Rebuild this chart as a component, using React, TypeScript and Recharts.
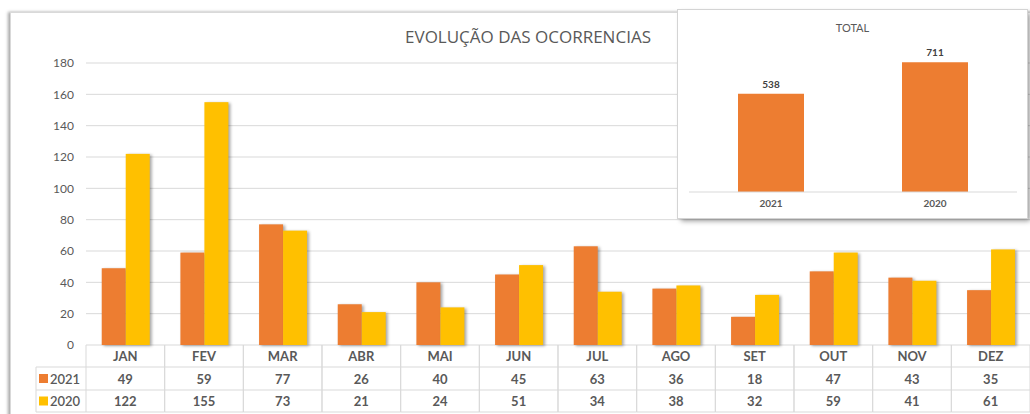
import React from "react";
import { BarChart, Bar, XAxis, YAxis, CartesianGrid, LabelList } from "recharts";

const MONTHS = ["JAN", "FEV", "MAR", "ABR", "MAI", "JUN", "JUL", "AGO", "SET", "OUT", "NOV", "DEZ"];
const VALUES_2021 = [49, 59, 77, 26, 40, 45, 63, 36, 18, 47, 43, 35];
const VALUES_2020 = [122, 155, 73, 21, 24, 51, 34, 38, 32, 59, 41, 61];
const Y_TICKS = [0, 20, 40, 60, 80, 100, 120, 140, 160, 180];

const TOTAL_YEARS = ["2021", "2020"];
const TOTAL_VALUES = [538, 711];

const ORANGE = "#ED7D31";
const YELLOW = "#FFC000";
const GRID = "#d9d9d9";
const TXT = "#595959";
const FONT = "Lato, 'Open Sans', sans-serif";

// layout
const W = 1030;
const H = 414;
const PLOT_LEFT = 86;
const PLOT_BOTTOM = 345;
const BAND = (W - PLOT_LEFT) / MONTHS.length;
const ROW1 = 367;
const ROW2 = 390;
const ROW3 = 412;

const monthly = MONTHS.map((m, i) => ({ mes: m, y2021: VALUES_2021[i], y2020: VALUES_2020[i] }));
const totals = TOTAL_YEARS.map((y, i) => ({ ano: y, total: TOTAL_VALUES[i] }));

const shadowBar = (p: any) => (
  <rect
    x={p.x}
    y={p.y}
    width={p.width}
    height={p.height}
    fill={p.fill}
    style={{ filter: "drop-shadow(2px 1px 1.5px rgba(0,0,0,0.35))" }}
  />
);

// tabela de dados desenhada nos ticks do eixo X
function TableTick(props: any) {
  const { x, payload, index } = props;
  const i = index ?? payload.index;
  const l = x - BAND / 2;
  const r = x + BAND / 2;
  return (
    <g>
      <line x1={l} x2={l} y1={PLOT_BOTTOM} y2={ROW3} stroke={GRID} />
      <line x1={r} x2={r} y1={PLOT_BOTTOM} y2={ROW3} stroke={GRID} />
      <line x1={l} x2={r} y1={ROW1} y2={ROW1} stroke={GRID} />
      <line x1={l} x2={r} y1={ROW2} y2={ROW2} stroke={GRID} />
      <line x1={l} x2={r} y1={ROW3} y2={ROW3} stroke={GRID} />
      <text x={x} y={(PLOT_BOTTOM + ROW1) / 2} textAnchor="middle" dominantBaseline="central" fontSize={13} fontWeight={700} fill={TXT} fontFamily={FONT}>
        {payload.value}
      </text>
      <text x={x} y={(ROW1 + ROW2) / 2} textAnchor="middle" dominantBaseline="central" fontSize={13} fontWeight={700} fill={TXT} fontFamily={FONT}>
        {VALUES_2021[i]}
      </text>
      <text x={x} y={(ROW2 + ROW3) / 2} textAnchor="middle" dominantBaseline="central" fontSize={13} fontWeight={700} fill={TXT} fontFamily={FONT}>
        {VALUES_2020[i]}
      </text>
      {i === 0 && (
        <g>
          <line x1={36} x2={l} y1={ROW1} y2={ROW1} stroke={GRID} />
          <line x1={36} x2={l} y1={ROW2} y2={ROW2} stroke={GRID} />
          <line x1={36} x2={l} y1={ROW3} y2={ROW3} stroke={GRID} />
          <line x1={36} x2={36} y1={ROW1} y2={ROW3} stroke={GRID} />
          <rect x={39} y={(ROW1 + ROW2) / 2 - 4.5} width={9} height={9} fill={ORANGE} />
          <rect x={39} y={(ROW2 + ROW3) / 2 - 4.5} width={9} height={9} fill={YELLOW} />
          <text x={50} y={(ROW1 + ROW2) / 2} dominantBaseline="central" fontSize={13} fill={TXT} fontFamily={FONT} fontWeight={600}>
            2021
          </text>
          <text x={50} y={(ROW2 + ROW3) / 2} dominantBaseline="central" fontSize={13} fill={TXT} fontFamily={FONT} fontWeight={600}>
            2020
          </text>
        </g>
      )}
    </g>
  );
}

export default function App() {
  return (
    <div style={{ position: "absolute", left: 0, top: 0, width: W, height: H, overflow: "hidden", background: "#fff", fontFamily: FONT }}>
      {/* moldura do gráfico */}
      <div
        style={{
          position: "absolute",
          left: 10,
          top: 12,
          width: 1040,
          height: 430,
          border: "1px solid #d9d9d9",
          boxShadow: "-2px 0 3px rgba(0,0,0,0.35)",
          background: "#fff",
        }}
      />
      <div style={{ position: "absolute", left: 0, top: 0 }}>
        <BarChart
          width={W}
          height={H}
          data={monthly}
          margin={{ top: 63, right: 0, bottom: 0, left: 0 }}
          barCategoryGap="20%"
          barGap={0}
        >
          <text x={528} y={36} textAnchor="middle" dominantBaseline="central" fontSize={17} fill={TXT} fontFamily="'Open Sans', sans-serif">
            EVOLUÇÃO DAS OCORRENCIAS
          </text>
          <CartesianGrid vertical={false} stroke={GRID} />
          <YAxis
            width={PLOT_LEFT}
            domain={[0, 180]}
            ticks={Y_TICKS}
            axisLine={false}
            tickLine={false}
            tick={{ fontSize: 12, fill: TXT, fontFamily: FONT, dx: -4 }}
          />
          <XAxis dataKey="mes" height={H - PLOT_BOTTOM} axisLine={false} tickLine={false} interval={0} tick={<TableTick />} />
          <Bar dataKey="y2021" fill={ORANGE} isAnimationActive={false} shape={shadowBar} />
          <Bar dataKey="y2020" fill={YELLOW} isAnimationActive={false} shape={shadowBar} />
        </BarChart>
      </div>
      {/* quadro TOTAL */}
      <div
        style={{
          position: "absolute",
          left: 678,
          top: 10,
          width: 349,
          height: 208,
          background: "#fff",
          boxShadow: "0 0 0 1px #d4d4d4, 3px 3px 5px rgba(0,0,0,0.4)",
        }}
      >
        <BarChart
          width={349}
          height={208}
          data={totals}
          margin={{ top: 36, right: 10, bottom: 0, left: 11 }}
          barCategoryGap={49}
        >
          <text x={174.5} y={17} textAnchor="middle" dominantBaseline="central" fontSize={11} fill={TXT} fontFamily={FONT}>
            TOTAL
          </text>
          <YAxis hide domain={[0, 800]} />
          <XAxis
            dataKey="ano"
            height={26}
            axisLine={{ stroke: GRID }}
            tickLine={false}
            tick={{ fontSize: 10, fontWeight: 700, fill: TXT, fontFamily: FONT }}
          />
          <Bar dataKey="total" fill={ORANGE} isAnimationActive={false}>
            <LabelList dataKey="total" position="top" offset={6} fontSize={10} fontWeight={700} fill="#404040" fontFamily={FONT} />
          </Bar>
        </BarChart>
      </div>
    </div>
  );
}
